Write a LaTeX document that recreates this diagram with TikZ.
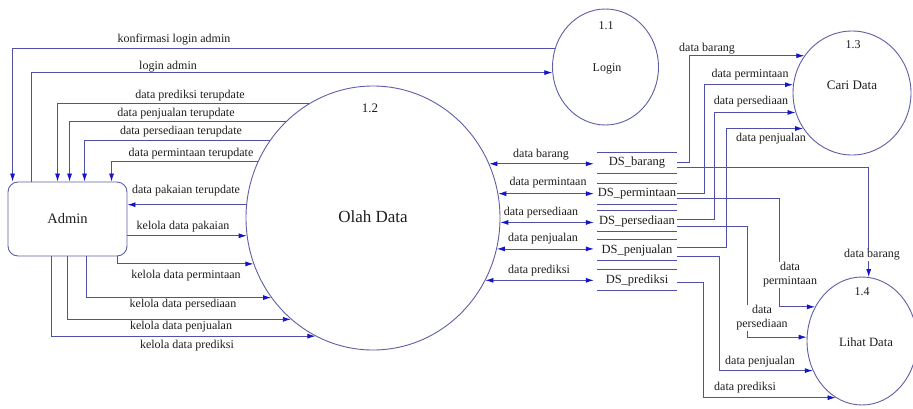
\documentclass[tikz,border=0pt]{standalone}
\usepackage{fontspec}
\setmainfont{Liberation Serif}
\usetikzlibrary{shapes.geometric,arrows.meta}
\definecolor{linec}{RGB}{80,80,170}
\definecolor{circc}{RGB}{95,95,165}
\definecolor{arrc}{RGB}{20,20,200}
\definecolor{txtc}{RGB}{30,30,30}
\begin{document}
\begin{tikzpicture}[x=1pt,y=-1pt,
  proc/.style={ellipse,draw=circc,line width=0.9pt,inner sep=0pt},
  lbl/.style={font=\fontsize{12}{14}\selectfont,text=txtc,inner sep=1pt},
  wlbl/.style={lbl,fill=white,align=center},
  title/.style={text=txtc,inner sep=0pt},
  flow/.style={draw=linec,line width=0.8pt,-{Latex[length=8pt,width=5pt,color=arrc]}},
  bflow/.style={draw=linec,line width=0.8pt,{Latex[length=8pt,width=5pt,color=arrc]}-{Latex[length=8pt,width=5pt,color=arrc]}},
  store/.style={minimum width=80pt,minimum height=20pt,inner sep=0pt,font=\fontsize{12.5}{14}\selectfont,text=txtc},
  storeline/.style={draw=linec,line width=0.8pt}
]
\useasboundingbox[fill=white] (0,0) rectangle (913,408);

% processes
\node[proc,minimum width=106pt,minimum height=116pt] (login) at (605.5,67) {};
\node[proc,minimum width=254pt,minimum height=264pt] (olah) at (373,218) {};
\node[proc,minimum width=118pt,minimum height=124pt] (cari) at (852,93) {};
\node[proc,minimum width=110pt,minimum height=128pt] (lihat) at (862,341) {};

\node[title,font=\fontsize{12}{14}\selectfont] (n11) at (606,26) {1.1};
\node[title,font=\fontsize{12}{14}\selectfont] (tlogin) at (607,69) {Login};
\node[title,font=\fontsize{13}{15}\selectfont] (n12) at (370,108) {1.2};
\node[title,font=\fontsize{17}{19}\selectfont] (tolah) at (373,217) {Olah Data};
\node[title,font=\fontsize{12}{14}\selectfont] (n13) at (853,45) {1.3};
\node[title,font=\fontsize{13}{15}\selectfont] (tcari) at (852,85) {Cari Data};
\node[title,font=\fontsize{12}{14}\selectfont] (n14) at (862,292) {1.4};
\node[title,font=\fontsize{12.7}{15}\selectfont] (tlihat) at (866,342) {Lihat Data};

% external entity
\node[draw=circc,line width=0.9pt,rounded corners=10pt,minimum width=119pt,minimum height=74pt,
      inner sep=0pt,text=txtc,font=\fontsize{14.5}{16}\selectfont] (admin) at (67.5,219) {Admin};

% data stores
\node[store] (dsb)  at (637,163) {DS\_barang};
\node[store] (dspm) at (637,194) {DS\_permintaan};
\node[store] (dsps) at (637,221) {DS\_persediaan};
\node[store] (dspj) at (637,250) {DS\_penjualan};
\node[store] (dspr) at (637,280) {DS\_prediksi};
\foreach \s in {dsb,dspm,dsps,dspj,dspr}
  \draw[storeline] (\s.north west) -- (\s.north east) (\s.south west) -- (\s.south east);

% Admin <-> Login
\draw[flow] (login.160) -| ([xshift=5pt]admin.north west);
\draw[flow] ([xshift=24pt]admin.north west) |- (login.186);

% Olah -> Admin
\draw[flow] (olah.119) -| ([xshift=50pt]admin.north west);
\draw[flow] (olah.132) -| ([xshift=62pt]admin.north west);
\draw[flow] (olah.143) -| ([xshift=77pt]admin.north west);
\draw[flow] (olah.154) -| ([xshift=104pt]admin.north west);
\draw[flow] (olah.174) -- (olah.174 -| admin.east);

% Admin -> Olah
\draw[flow] (olah.188 -| admin.east) -- (olah.188);
\draw[flow] ([xshift=-10pt]admin.south east) |- (olah.201);
\draw[flow] ([xshift=79pt]admin.south west) |- (olah.218);
\draw[flow] ([xshift=60pt]admin.south west) |- (olah.231);
\draw[flow] ([xshift=44pt]admin.south west) |- (olah.244);

% left labels
\node[lbl] (la1) at (174,40) {konfirmasi login admin};
\node[lbl] (la2) at (168,67) {login admin};
\node[lbl] (la3) at (190,96) {data prediksi terupdate};
\node[lbl] (la4) at (176,114) {data penjualan terupdate};
\node[lbl] (la5) at (181,132) {data persediaan terupdate};
\node[lbl] (la6) at (191,154) {data permintaan terupdate};
\node[lbl] (la7) at (186,191) {data pakaian terupdate};
\node[lbl] (la8) at (183,227) {kelola data pakaian};
\node[lbl] (la9) at (186,276) {kelola data permintaan};
\node[lbl] (la10) at (183,305) {kelola data persediaan};
\node[lbl] (la11) at (181,327) {kelola data penjualan};
\node[lbl] (la12) at (187,346) {kelola data prediksi};

% Olah <-> stores
\draw[bflow,shorten >=3pt] (olah.25) -- (olah.25 -| dsb.west);
\draw[bflow,shorten >=3pt] (olah.11) -- (olah.11 -| dspm.west);
\draw[bflow,shorten >=3pt] (olah.358) -- (olah.358 -| dsps.west);
\draw[bflow,shorten >=3pt] (olah.346) -- (olah.346 -| dspj.west);
\draw[bflow,shorten >=3pt] (olah.331) -- (olah.331 -| dspr.west);
\node[lbl] (lm1) at (541,155) {data barang};
\node[lbl] (lm2) at (548,183) {data permintaan};
\node[lbl] (lm3) at (541,213) {data persediaan};
\node[lbl] (lm4) at (543,239) {data penjualan};
\node[lbl] (lm5) at (539,271) {data prediksi};

% stores -> Cari Data
\draw[flow] ([yshift=1pt]dsb.east) -- ++(12,0) |- (cari.142);
\draw[flow] ([yshift=1pt]dspm.east) -- ++(27,0) |- (cari.172);
\draw[flow] ([yshift=2pt]dsps.east) -- ++(37,0) |- (cari.199);
\draw[flow] ([yshift=3pt]dspj.east) -- ++(49,0) |- (cari.216);
\node[lbl] (lc1) at (707,49) {data barang};
\node[lbl] (lc2) at (750,75) {data permintaan};
\node[lbl] (lc3) at (751,102) {data persediaan};
\node[lbl] (lc4) at (771,139) {data penjualan};

% stores -> Lihat Data
\draw[flow] ([yshift=-5pt]dsps.east) -- ++(70,0) |- (lihat.176);
\node[wlbl] (ll3) at (762,318) {data\\persediaan};
\draw[flow] ([yshift=-4pt]dspm.east) -- ++(102,0) |- (lihat.144);
\node[wlbl] (ll2) at (790,275) {data\\permintaan};
\draw[flow] ([yshift=-4pt]dsb.east) -| (lihat.84);
\node[wlbl] (ll1) at (872,255) {data barang};
\draw[flow] ([yshift=-6pt]dspj.east) -- ++(42,0) |- (lihat.211);
\draw[flow] ([yshift=-2pt]dspr.east) -- ++(26,0) |- (lihat.245);
\node[lbl] (ll4) at (760,362) {data penjualan};
\node[lbl] (ll5) at (745,388) {data prediksi};
\end{tikzpicture}
\end{document}
